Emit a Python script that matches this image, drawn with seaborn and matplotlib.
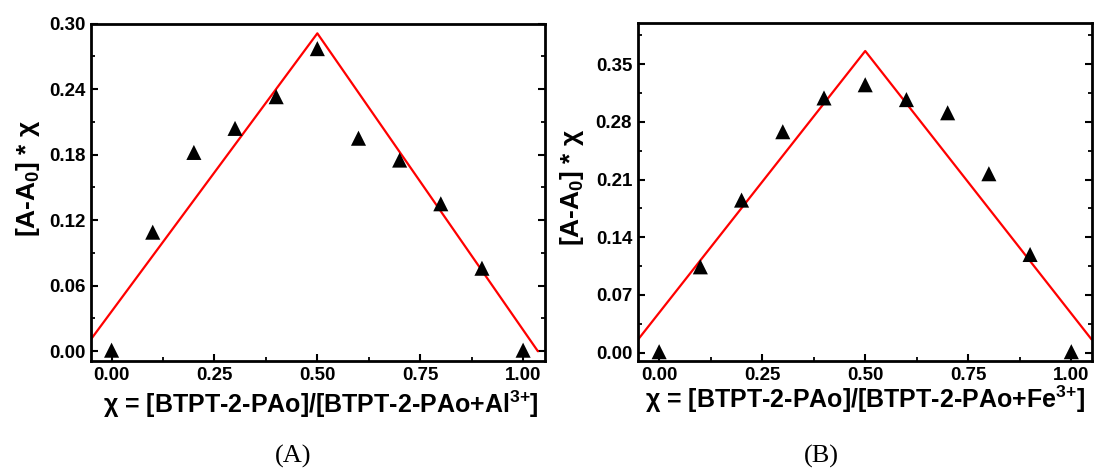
import matplotlib
matplotlib.use("Agg")
import matplotlib.pyplot as plt
import seaborn as sns
import numpy as np
import pandas as pd
from matplotlib.ticker import MultipleLocator, FormatStrFormatter

# ---------------- data ----------------
chi = [0.0, 0.1, 0.2, 0.3, 0.4, 0.5, 0.6, 0.7, 0.8, 0.9, 1.0]
al_values = [0.001, 0.109, 0.182, 0.204, 0.233, 0.277, 0.195, 0.175, 0.135, 0.076, 0.001]
fe_values = [0.001, 0.104, 0.185, 0.268, 0.309, 0.325, 0.307, 0.291, 0.217, 0.119, 0.001]

fit_x_al = [-0.05, 0.5, 1.036]
fit_y_al = [0.011, 0.291, 0.0]
fit_x_fe = [-0.052, 0.5, 1.049]
fit_y_fe = [0.0152, 0.366, 0.016]

al_yticks = [0.00, 0.06, 0.12, 0.18, 0.24, 0.30]
fe_yticks = [0.00, 0.07, 0.14, 0.21, 0.28, 0.35]
xticks = [0.00, 0.25, 0.50, 0.75, 1.00]

xlabel_al = "χ = [BTPT-2-PAo]/[BTPT-2-PAo+Al$^{3{+}}$]"
xlabel_fe = "χ = [BTPT-2-PAo]/[BTPT-2-PAo+Fe$^{3{+}}$]"
ylabel = "[A-A$_{0}$] * χ"
captions = ["(A)", "(B)"]

# ---------------- style ----------------
sns.set_theme(style="ticks")
plt.rcParams["font.family"] = ["Liberation Sans", "DejaVu Sans"]
plt.rcParams["font.weight"] = "bold"
plt.rcParams["mathtext.fontset"] = "custom"
plt.rcParams["mathtext.rm"] = "Liberation Sans:bold"
plt.rcParams["mathtext.it"] = "Liberation Sans:bold"
plt.rcParams["mathtext.bf"] = "Liberation Sans:bold"
plt.rcParams["mathtext.default"] = "rm"
for key in ["text.color", "axes.labelcolor", "xtick.color", "ytick.color",
            "axes.edgecolor"]:
    plt.rcParams[key] = "black"

fig = plt.figure(figsize=(10.94, 4.73), dpi=100)
axA = fig.add_axes([91 / 1094, 1 - 361 / 473, 453.5 / 1094, 337.5 / 473])
axB = fig.add_axes([637.7 / 1094, 1 - 361 / 473, 453.8 / 1094, 337.7 / 473])

dfA = pd.DataFrame({"chi": chi, "val": al_values})
dfB = pd.DataFrame({"chi": chi, "val": fe_values})
fitA = pd.DataFrame({"x": fit_x_al, "y": fit_y_al})
fitB = pd.DataFrame({"x": fit_x_fe, "y": fit_y_fe})

panels = [
    (axA, dfA, fitA, (-0.05, 1.052), (-0.0089, 0.30), al_yticks, 0.03, xlabel_al,
     (-0.139, 0.541), (0.508, -0.153)),
    (axB, dfB, fitB, (-0.052, 1.049), (-0.0103, 0.3996), fe_yticks, 0.035, xlabel_fe,
     (-0.145, 0.515), (0.501, -0.139)),
]

for ax, df, fit, xl, yl, yt, yminor, xlab, ylc, xlc in panels:
    sns.lineplot(data=fit, x="x", y="y", ax=ax, color="#ff0000", lw=1.6,
                 sort=False, estimator=None, zorder=2)
    sns.scatterplot(data=df, x="chi", y="val", ax=ax, marker="^", s=118,
                    color="black", edgecolor="none", linewidth=0, zorder=3)
    ax.set_xlim(*xl)
    ax.set_ylim(*yl)
    ax.set_xticks(xticks)
    ax.set_yticks(yt)
    ax.xaxis.set_minor_locator(MultipleLocator(0.125))
    ax.yaxis.set_minor_locator(MultipleLocator(yminor))
    ax.xaxis.set_major_formatter(FormatStrFormatter("%.2f"))
    ax.yaxis.set_major_formatter(FormatStrFormatter("%.2f"))
    ax.tick_params(which="major", direction="in", length=5, width=1.5,
                   labelsize=13.5, left=True, bottom=True, right=True, top=False,
                   pad=4, colors="black")
    ax.tick_params(which="minor", direction="in", length=3, width=1.3,
                   left=True, bottom=True, right=True, top=False, colors="black")
    for lab in ax.get_xticklabels() + ax.get_yticklabels():
        lab.set_fontweight("bold")
    for sp in ax.spines.values():
        sp.set_visible(True)
        sp.set_linewidth(2.0)
        sp.set_color("black")
    ax.set_xlabel(xlab, fontsize=18, fontweight="bold", va="baseline", color="black")
    ax.set_ylabel(ylabel, fontsize=19, fontweight="bold", va="center", color="black")
    ax.xaxis.set_label_coords(*xlc)
    ax.yaxis.set_label_coords(*ylc)
    ax.grid(False)
    ax.set_facecolor("white")

fig.text(293.5 / 1094, 1 - 456 / 473, captions[0], ha="center", va="center",
         fontsize=19, family="Liberation Serif", fontweight="normal", color="black")
fig.text(821.5 / 1094, 1 - 456 / 473, captions[1], ha="center", va="center",
         fontsize=19, family="Liberation Serif", fontweight="normal", color="black")

fig.savefig("out.png", dpi=100, facecolor="white")
